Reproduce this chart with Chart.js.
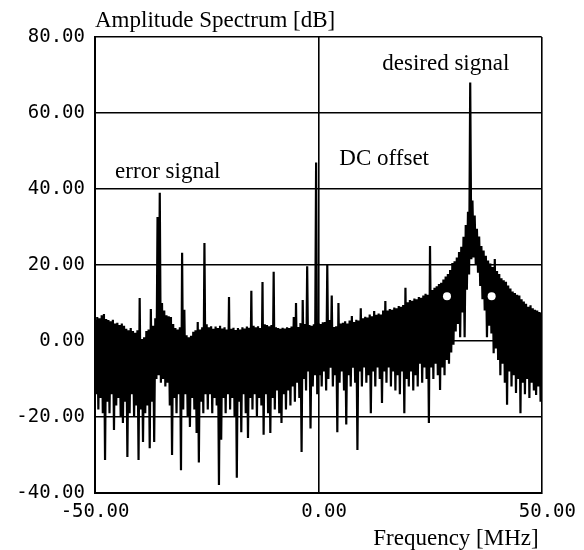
<!DOCTYPE html>
<html lang="en">
  <head>
    <meta charset="UTF-8" />
    <title>Amplitude Spectrum</title>
    <script src="https://cdn.jsdelivr.net/npm/chart.js"></script>
    <style>
      body { margin: 0; background: #fff; }
    </style>
  </head>
  <body>
    <canvas id="spectrumChart" width="584" height="550"></canvas>

    <script>
      // spectrum bins: first bin at -50 MHz, one bin every 0.25 MHz
      const freqStart = -50;
      const binWidth = 0.25;

      // amplitude in dB, one row per 5 MHz
      const spectrumDb = [
        5.5, -14, 6.3, -18, 6.0, -15, 6.8, -19, 7.1, -31.3, 5.8, -16, 5.5, -19, 5.2, -14, 5.6, -23.4, 4.6, -17, // -50
        4.8, -15, 4.2, -20, 4.6, -21.6, 4.0, -16, 3.2, -30.5, 2.8, -19, 3.4, -14, 2.6, -20, 2.2, -17, 2.8, -31.3, // -45
        11.3, -18, 0.5, -26.6, 1.0, -19, 2.6, -17, 3.0, -28.2, 8.4, -16, 4.0, -26.6, 6.0, -10, 32.6, -9, 39.0, -11, // -40
        10.0, -10, 8.0, -12, 6.8, -11, 6.5, -17, 6.3, -30, 4.5, -15, 3.4, -19, 3.0, -14, 3.6, -34, 23.2, -18, // -35
        8.2, -14, 1.5, -20, 1.0, -22.6, 1.4, -15, 2.4, -18, 2.8, -24.2, 5.0, -32, 3.0, -16, 3.6, -19, 25.8, -14, // -30
        4.4, -18, 3.6, -14, 3.9, -19, 3.2, -15, 3.8, -17, 3.4, -37.9, 4.0, -26, 3.3, -15, 3.6, -19, 3.0, -14, // -25
        11.6, -18, 3.2, -15, 3.5, -20, 2.9, -36, 3.4, -16, 3.0, -24, 3.6, -14, 3.3, -19, 3.8, -25.5, 3.5, -15, // -20
        13.2, -18, 4.0, -14, 3.6, -20, 3.9, -15, 3.4, -17, 15.5, -24.7, 4.4, -14, 4.2, -19, 3.9, -24.2, 4.2, -15, // -15
        18.2, -18, 3.6, -13, 3.4, -19, 3.2, -21.6, 3.5, -14, 3.3, -18, 3.6, -13, 3.4, -17, 3.8, -12, 6.3, -16, // -10
        10.0, -11, 3.7, -15, 4.7, -29.2, 10.8, -10, 4.5, -13, 19.7, -8, 4.2, -23, 4.0, -12, 4.4, -9, 47.0, -14, // -5
        4.7, -9, 4.5, -12, 4.9, -8, 5.0, -13, 20.0, -10, 5.5, -7, 12.0, -12, 3.7, -9, 3.9, -24, 10.0, -11, // 0
        4.6, -8, 4.8, -13, 5.2, -22, 4.6, -9, 5.4, -12, 6.6, -7, 5.0, -11, 5.6, -28.7, 5.4, -8, 8.6, -12, // 5
        6.0, -7, 6.4, -11, 6.2, -9, 7.0, -19, 6.5, -8, 7.9, -12, 6.9, -7, 7.2, -10, 7.0, -16.3, 8.0, -8, // 10
        10.5, -11, 8.0, -7, 8.4, -12, 8.2, -8, 8.8, -13, 8.6, -9, 9.2, -14, 9.0, -8, 9.5, -19, 14.0, -10, // 15
        10.2, -12, 10.8, -8, 10.6, -13, 11.2, -9, 11.0, -12, 11.6, -6, 11.4, -11, 12.0, -7, 12.4, -10, 12.2, -21.6, // 20
        25.0, -7, 13.4, -10, 14.0, -6, 14.4, -9, 15.0, -12.9, 15.3, -7, 16.2, -9, 17.0, -5, 17.6, -6, 18.7, -3, // 25
        20.5, -1, 21.0, 2.5, 22.0, 4.5, 23.4, 1.0, 24.8, 7.5, 27.4, 1.0, 30.5, 13.5, 34.0, 17.5, 68.0, 21.5, 37.0, 22.0, // 30
        33.0, 20.0, 29.5, 18.0, 27.5, 14.5, 25.0, 11.0, 23.8, 8.0, 22.4, 1.0, 21.2, 4.0, 20.4, 2.0, 19.5, -3.2, 21.6, -2.0, // 35
        18.4, -5, 17.6, -9, 16.5, -6, 16.0, -11, 15.6, -16.8, 14.6, -8, 13.8, -12, 13.0, -9, 12.6, -13.7, 12.2, -10, // 40
        12.0, -19, 11.0, -11, 10.4, -14, 9.8, -10, 9.0, -15, 9.4, -11, 8.6, -13, 8.2, -14.2, 8.0, -12, 7.6, -16, // 45
        7.4, // 50
      ];

      // the two white blobs on the flanks of the desired signal
      const dotFreqs = [28.8, 38.8];
      const dotDb = [11.8, 11.8];

      const xTicks = [-50, 0, 50];
      const yTicks = [-40, -20, 0, 20, 40, 60, 80];

      // labels written inside the plot
      const noteTexts = ["desired signal", "DC offset", "error signal"];
      const noteFreqs = [14.3, 4.7, -45.5];
      const noteDb = [71.3, 46.3, 42.9];

      const spectrumPoints = spectrumDb.map((v, i) => ({ x: freqStart + i * binWidth, y: v }));
      const dotPoints = dotFreqs.map((f, i) => ({ x: f, y: dotDb[i] }));

      const monoFont = { family: "'DejaVu Sans Mono'", size: 19 };
      const serif = "23px 'Liberation Serif'";

      // axis titles and notes
      const textPlugin = {
        id: "spectrumText",
        afterDraw(chart) {
          const { ctx, chartArea, scales } = chart;
          ctx.save();
          ctx.fillStyle = "#000";
          ctx.font = serif;
          ctx.textBaseline = "alphabetic";
          ctx.textAlign = "left";
          ctx.fillText("Amplitude Spectrum [dB]", chartArea.left, chartArea.top - 10);
          noteTexts.forEach((t, i) => {
            ctx.fillText(t, scales.x.getPixelForValue(noteFreqs[i]), scales.y.getPixelForValue(noteDb[i]));
          });
          ctx.textAlign = "right";
          ctx.fillText("Frequency [MHz]", chartArea.right - 3, 545);
          ctx.restore();
        },
      };

      const ctx = document.getElementById("spectrumChart").getContext("2d");
      new Chart(ctx, {
        type: "line",
        data: {
          datasets: [
            {
              data: dotPoints,
              type: "scatter",
              pointRadius: 4,
              pointBackgroundColor: "#fff",
              pointBorderWidth: 0,
              order: 0,
            },
            {
              data: spectrumPoints,
              borderColor: "#000",
              borderWidth: 2.2,
              borderJoinStyle: "bevel",
              pointRadius: 0,
              tension: 0,
              order: 1,
            },
          ],
        },
        options: {
          responsive: false,
          animation: false,
          devicePixelRatio: 1,
          layout: { padding: { top: 37, right: 41, left: 0, bottom: 0 } },
          plugins: { legend: { display: false }, tooltip: { enabled: false } },
          scales: {
            x: {
              type: "linear",
              min: -50,
              max: 50,
              afterBuildTicks: (s) => { s.ticks = xTicks.map((v) => ({ value: v })); },
              afterFit: (s) => { s.height = 57; },
              ticks: {
                color: "#000",
                font: monoFont,
                padding: 8,
                maxRotation: 0,
                autoSkip: false,
                callback: (v) => (v < 0 ? "" : " ") + v.toFixed(2),
              },
              grid: { color: "#000", lineWidth: 1.6, drawTicks: false },
              border: { color: "#000", width: 2 },
            },
            y: {
              min: -40,
              max: 80,
              afterBuildTicks: (s) => { s.ticks = yTicks.map((v) => ({ value: v })); },
              afterFit: (s) => { s.width = 95; },
              ticks: {
                color: "#000",
                font: monoFont,
                padding: 10,
                callback: (v) => v.toFixed(2),
              },
              grid: { color: "#000", lineWidth: 1.6, drawTicks: false },
              border: { color: "#000", width: 2 },
            },
          },
        },
        plugins: [textPlugin],
      });
    </script>
  </body>
</html>
